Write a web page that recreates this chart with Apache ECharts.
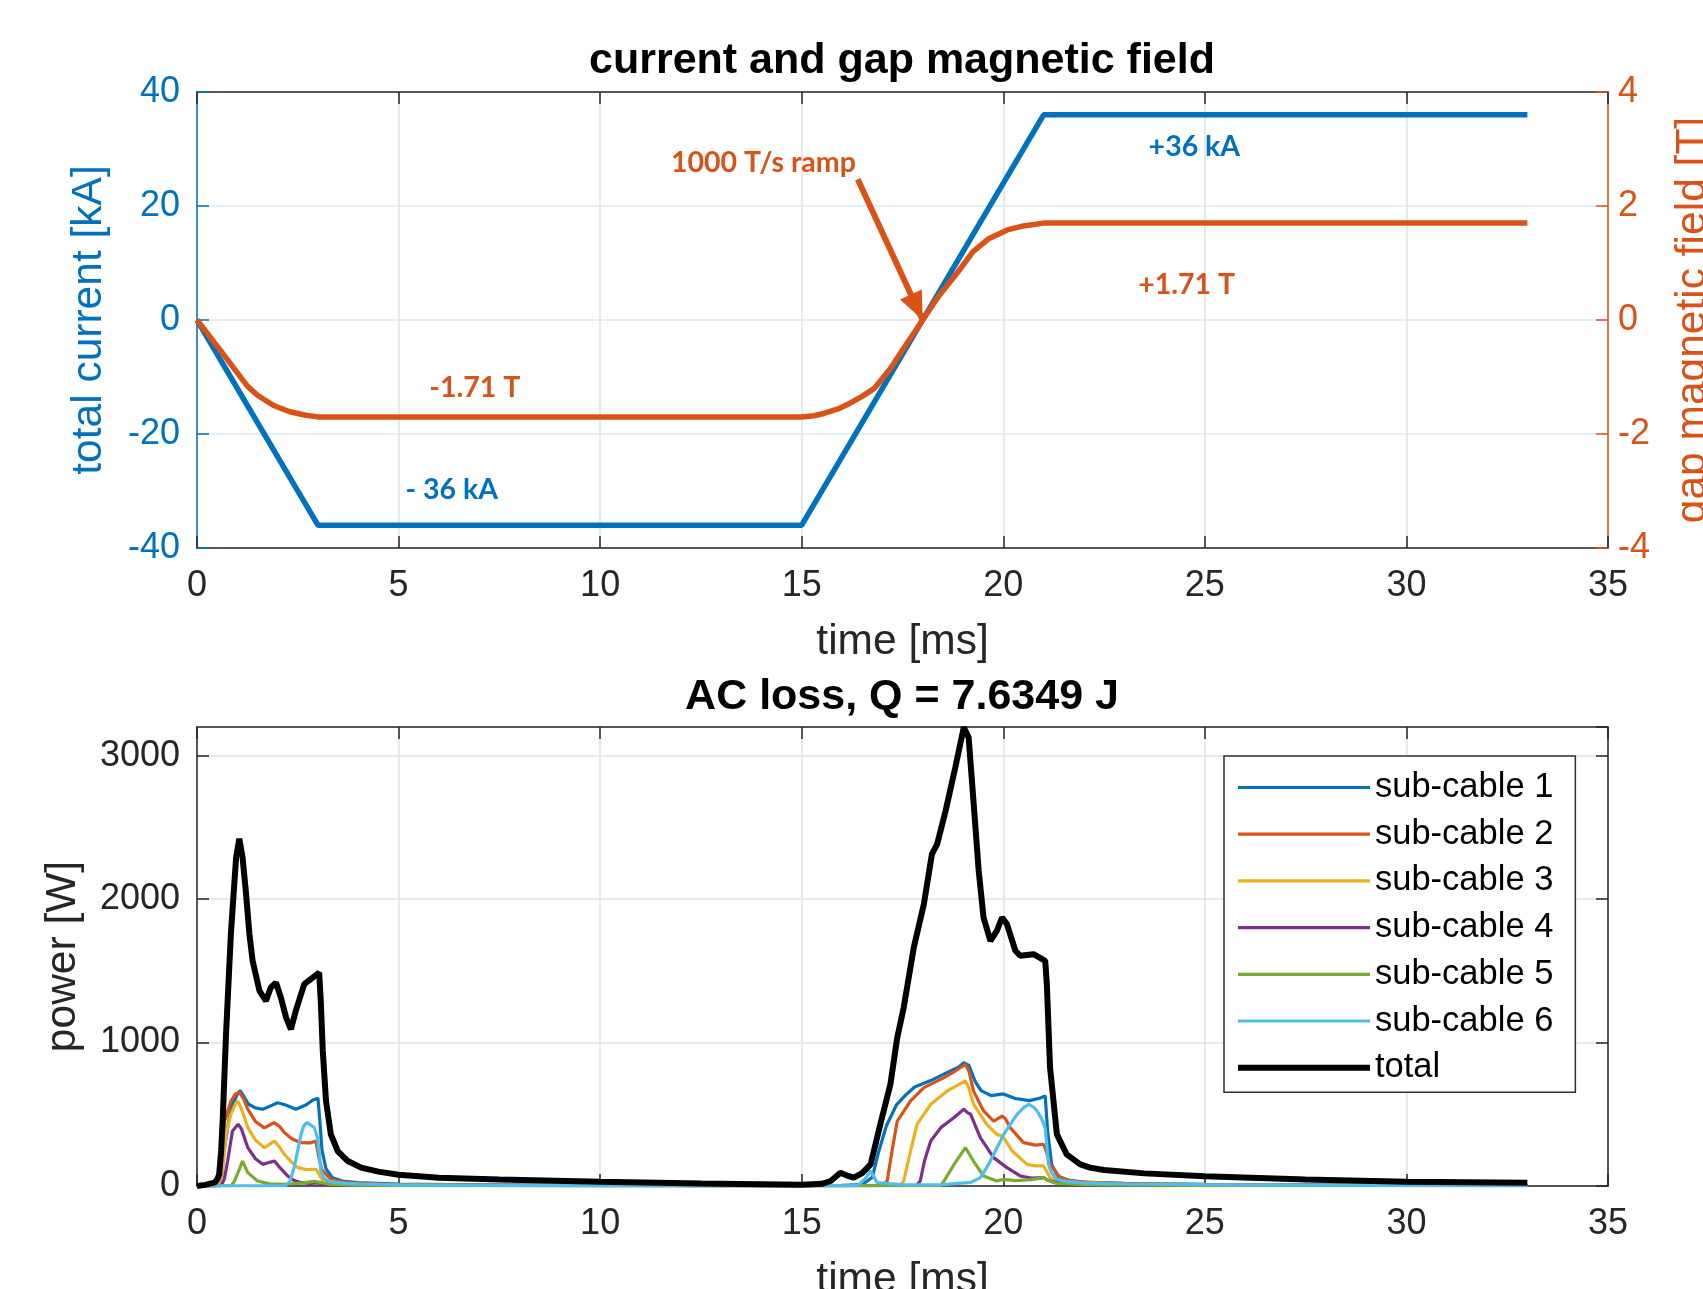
<!DOCTYPE html>
<html>
<head>
<meta charset="utf-8">
<title>current and gap magnetic field / AC loss</title>
<script src="https://cdn.jsdelivr.net/npm/echarts@6.0.0/dist/echarts.min.js"></script>
<style>
    html, body { margin: 0; padding: 0; background: #ffffff; }
    #canvas { width: 1703px; height: 1289px; }
</style>
</head>
<body>
<div id="canvas"></div>
<script>
/**---------------------------------------------------------------------------------------------------------------------
 * Data (time in ms)
 *-------------------------------------------------------------------------------------------------------------------*/

// total current [kA]
const currentData = [[0, 0], [3, -36], [15, -36], [21, 36], [33, 36]];

// gap magnetic field [T]
const fieldData = [[0, 0], [0.6, -0.55], [1.1, -1.02], [1.25, -1.16], [1.5, -1.32], [1.9, -1.5], [2.3, -1.61],
    [2.7, -1.67], [3.0, -1.70], [15.0, -1.70], [15.3, -1.68], [15.55, -1.64], [15.9, -1.56], [16.2, -1.46],
    [16.5, -1.34], [16.8, -1.2], [17.2, -0.85], [17.6, -0.42], [18, 0], [18.4, 0.42], [18.85, 0.82], [19.25, 1.2],
    [19.65, 1.43], [20.1, 1.58], [20.5, 1.65], [21.0, 1.70], [33, 1.70]];

// AC loss power [W] per sub-cable
const subCable1 = [[0, 0], [0.45, 3], [0.55, 30], [0.62, 120], [0.7, 300], [0.8, 480], [0.9, 580], [1.0, 640],
    [1.07, 665], [1.17, 620], [1.28, 570], [1.45, 545], [1.63, 535], [1.8, 555], [2.0, 580], [2.2, 565], [2.45, 535],
    [2.7, 565], [2.88, 600], [3.0, 612], [3.04, 480], [3.1, 250], [3.2, 120], [3.35, 60], [3.6, 35], [4.0, 24],
    [5.0, 14], [7.0, 8], [10, 5], [14, 3], [16.0, 4], [16.5, 10], [16.75, 60], [16.9, 230], [17.1, 420], [17.35, 565],
    [17.6, 640], [17.8, 690], [18.2, 735], [18.6, 790], [18.9, 830], [19.02, 860], [19.15, 840], [19.3, 730],
    [19.45, 665], [19.7, 630], [20.0, 642], [20.3, 610], [20.65, 595], [20.9, 612], [21.04, 628], [21.1, 380],
    [21.2, 150], [21.35, 70], [21.6, 42], [22, 28], [23, 18], [25, 12], [30, 6], [33, 5]];

const subCable2 = [[0, 0], [0.5, 2], [0.58, 60], [0.68, 450], [0.84, 590], [0.95, 640], [1.05, 655], [1.15, 610],
    [1.26, 535], [1.45, 450], [1.67, 405], [1.8, 425], [1.92, 442], [2.05, 415], [2.17, 372], [2.35, 330],
    [2.58, 302], [2.8, 300], [2.95, 314], [3.02, 200], [3.1, 110], [3.32, 46], [3.6, 28], [4.0, 18], [5, 10], [7, 6],
    [10, 4], [15, 2], [17.0, 5], [17.12, 35], [17.24, 244], [17.37, 453], [17.7, 593], [18.03, 686], [18.53, 756],
    [18.8, 800], [19.06, 849], [19.15, 800], [19.26, 663], [19.51, 523], [19.76, 453], [19.97, 488], [20.05, 470],
    [20.17, 407], [20.5, 302], [20.8, 285], [21.0, 291], [21.08, 230], [21.16, 151], [21.41, 58], [21.7, 35],
    [22.2, 24], [23, 16], [25, 10], [30, 5], [33, 4]];

const subCable3 = [[0, 0], [0.55, 2], [0.62, 60], [0.72, 360], [0.84, 500], [0.95, 570], [1.01, 593], [1.1, 540],
    [1.26, 407], [1.45, 320], [1.67, 267], [1.8, 290], [1.92, 314], [2.05, 270], [2.17, 220], [2.35, 165], [2.5, 128],
    [2.7, 115], [2.95, 116], [3.03, 80], [3.1, 46], [3.3, 30], [3.6, 20], [4, 14], [5, 8], [7, 5], [10, 3], [15, 2],
    [17.45, 5], [17.53, 35], [17.7, 244], [17.86, 430], [18.2, 570], [18.61, 663], [19.06, 733], [19.15, 680],
    [19.26, 570], [19.59, 430], [19.84, 360], [19.97, 349], [20.05, 320], [20.22, 244], [20.59, 151], [20.8, 140],
    [21.0, 140], [21.08, 100], [21.16, 58], [21.4, 35], [22, 22], [23, 15], [25, 9], [30, 5], [33, 4]];

const subCable4 = [[0, 0], [0.6, 2], [0.68, 50], [0.76, 174], [0.88, 384], [1.02, 430], [1.1, 400], [1.26, 267],
    [1.45, 190], [1.63, 151], [1.8, 165], [1.92, 174], [2.05, 130], [2.25, 70], [2.4, 40], [2.58, 23], [2.8, 18],
    [3.0, 22], [3.1, 15], [3.5, 10], [5, 6], [10, 3], [15, 2], [17.85, 5], [17.94, 35], [18.05, 180], [18.2, 314],
    [18.45, 407], [18.78, 477], [19.02, 535], [19.12, 510], [19.19, 500], [19.43, 337], [19.76, 198], [20.09, 128],
    [20.42, 70], [20.7, 55], [21.0, 58], [21.1, 40], [21.3, 25], [22, 15], [25, 8], [30, 4], [33, 3]];

const subCable5 = [[0, 0], [0.85, 2], [0.93, 35], [1.05, 116], [1.13, 174], [1.2, 130], [1.26, 93], [1.5, 35],
    [1.8, 15], [2.2, 12], [2.6, 20], [2.9, 32], [3.05, 25], [3.3, 12], [4, 6], [6, 3], [10, 2], [15, 1], [18.45, 5],
    [18.53, 35], [18.78, 151], [19.06, 267], [19.26, 174], [19.51, 70], [19.84, 35], [20.0, 46], [20.3, 38],
    [20.7, 45], [21.0, 58], [21.1, 40], [21.3, 20], [22, 10], [25, 5], [33, 3]];

const subCable6 = [[0, 0], [2.2, 3], [2.3, 30], [2.41, 128], [2.5, 250], [2.58, 360], [2.65, 420], [2.73, 442],
    [2.82, 425], [2.91, 407], [2.99, 337], [3.03, 230], [3.07, 105], [3.15, 55], [3.24, 35], [3.5, 22], [4, 14],
    [5, 8], [7, 5], [10, 3], [15, 2], [16.4, 5], [16.6, 60], [16.71, 105], [16.8, 60], [16.87, 23], [17.5, 8],
    [18.5, 10], [19.2, 25], [19.43, 58], [19.55, 110], [19.68, 174], [19.85, 270], [20.01, 360], [20.2, 440],
    [20.34, 500], [20.5, 545], [20.63, 570], [20.75, 550], [20.84, 523], [20.95, 470], [21.04, 407], [21.08, 280],
    [21.12, 151], [21.2, 90], [21.33, 46], [21.6, 30], [22, 20], [23, 14], [25, 9], [30, 5], [33, 4]];

const totalLoss = [[0, 0], [0.2, 8], [0.43, 23], [0.5, 45], [0.55, 80], [0.6, 250], [0.64, 477], [0.72, 1058],
    [0.84, 1756], [0.97, 2290], [1.05, 2420], [1.09, 2430], [1.13, 2290], [1.21, 2058], [1.3, 1756], [1.38, 1570],
    [1.55, 1360], [1.71, 1290], [1.83, 1384], [1.96, 1418], [2.08, 1314], [2.21, 1174], [2.33, 1093], [2.45, 1221],
    [2.66, 1407], [2.87, 1453], [3.03, 1488], [3.07, 1290], [3.12, 942], [3.2, 593], [3.32, 360], [3.49, 244],
    [3.74, 174], [4.07, 128], [4.5, 100], [5, 78], [6, 58], [7.5, 45], [10, 30], [12.5, 18], [15, 8], [15.5, 15],
    [15.72, 35], [15.96, 93], [16.15, 70], [16.29, 58], [16.5, 90], [16.71, 151], [16.95, 430], [17.2, 709],
    [17.37, 1035], [17.53, 1244], [17.78, 1663], [18.03, 1965], [18.23, 2314], [18.36, 2384], [18.57, 2616],
    [18.81, 2919], [19.02, 3198], [19.14, 3128], [19.26, 2686], [19.39, 2198], [19.51, 1872], [19.68, 1709],
    [19.84, 1779], [19.97, 1872], [20.09, 1826], [20.3, 1640], [20.42, 1605], [20.75, 1616], [21.04, 1570],
    [21.08, 1407], [21.16, 826], [21.33, 360], [21.57, 221], [21.91, 151], [22.15, 128], [22.5, 112], [23.5, 88],
    [25, 68], [27.5, 45], [30, 30], [33, 23]];

const lossNames = ['sub-cable 1', 'sub-cable 2', 'sub-cable 3', 'sub-cable 4', 'sub-cable 5', 'sub-cable 6', 'total'];
const lossSeries = [subCable1, subCable2, subCable3, subCable4, subCable5, subCable6, totalLoss];

// annotations: [text, time, value]
const currentNotes = [['+36 kA', 24.74, 30.4], ['- 36 kA', 6.32, -29.8]];
const fieldNotes = [['+1.71 T', 24.55, 0.62], ['-1.71 T', 6.89, -1.19], ['1000 T/s ramp', 14.05, 2.75]];
const rampArrow = [[16.39, 2.47], [18.0, 0.0]];

/**---------------------------------------------------------------------------------------------------------------------
 * Styles
 *-------------------------------------------------------------------------------------------------------------------*/
const FONT = '"Liberation Sans", Arial, sans-serif';
const NOTE_FONT = 'Lato, "Open Sans", sans-serif';
const DARK = '#262626';
const GRID_GRAY = '#e2e2e2';
const BLUE = '#0072BD';
const ORANGE = '#D95319';
const lossColors = ['#0072BD', '#D95319', '#EDB120', '#7E2F8E', '#77AC30', '#4DBEEE', '#000000'];

// legend line icons, same aspect as the legend item box (132 x 10)
const thinIcon = 'path://M0,0M132,10M0,3.4L132,3.4L132,6.6L0,6.6Z';
const thickIcon = 'path://M0,0M132,10M0,2L132,2L132,8L0,8Z';

/**
 * Time axis of one subplot, drawn at the bottom (labels) or top (box edge only)
 */
function timeAxis(gridIndex, position) {
    let bottom = position === 'bottom';
    return {
        type: 'value', gridIndex: gridIndex, position: position,
        min: 0, max: 35, interval: 5,
        axisLine: {show: true, onZero: false, lineStyle: {color: DARK, width: 1.5}},
        axisTick: {show: true, inside: true, length: 12, lineStyle: {color: DARK, width: 1.5}},
        axisLabel: {show: bottom, fontSize: 36, color: DARK, margin: 20, fontFamily: FONT},
        splitLine: {show: bottom, lineStyle: {color: GRID_GRAY, width: 1.5}},
        name: bottom ? 'time [ms]' : '',
        nameLocation: 'middle', nameGap: 73, nameMoveOverlap: false,
        nameTextStyle: {fontSize: 42.5, color: DARK, fontFamily: FONT}
    };
}

/**
 * Value axis, left or right of a subplot
 */
function valueAxis(gridIndex, position, min, max, interval, color, name, nameGap, showLabels, splitColor) {
    return {
        type: 'value', gridIndex: gridIndex, position: position,
        min: min, max: max, interval: interval,
        axisLine: {show: true, onZero: false, lineStyle: {color: color, width: 1.5}},
        axisTick: {show: true, inside: true, length: 12, lineStyle: {color: color, width: 1.5}},
        axisLabel: {
            show: showLabels, fontSize: 36, color: color, fontFamily: FONT,
            margin: position === 'left' ? 17 : 10, showMaxLabel: max % interval === 0,
            formatter: v => String(v)
        },
        splitLine: {show: !!splitColor, lineStyle: {color: splitColor, width: 1.5}},
        name: name, nameLocation: 'middle', nameGap: nameGap, nameMoveOverlap: false,
        nameTextStyle: {fontSize: 42.5, color: color, fontFamily: FONT}
    };
}

function noteLabel(color, size) {
    return {
        show: true, position: 'inside', formatter: '{b}',
        color: color, fontSize: size, fontWeight: 'bold', fontFamily: NOTE_FONT
    };
}

function notePoints(notes) {
    return notes.map(n => ({name: n[0], coord: [n[1], n[2]]}));
}

/**---------------------------------------------------------------------------------------------------------------------
 * Chart
 *-------------------------------------------------------------------------------------------------------------------*/
let eChartInstance = echarts.init(document.getElementById('canvas'), null, {renderer: 'canvas'});

let series = [
    {
        name: 'current', type: 'line', xAxisIndex: 0, yAxisIndex: 0, data: currentData,
        symbol: 'none', lineStyle: {color: BLUE, width: 5.5}, itemStyle: {color: BLUE}, z: 3,
        markPoint: {
            symbol: 'circle', symbolSize: 1, itemStyle: {color: 'transparent'},
            label: noteLabel(BLUE, 28.5), data: notePoints(currentNotes)
        }
    },
    {
        name: 'field', type: 'line', xAxisIndex: 0, yAxisIndex: 1, data: fieldData,
        symbol: 'none', lineStyle: {color: ORANGE, width: 5.5}, itemStyle: {color: ORANGE}, z: 4,
        markPoint: {
            symbol: 'circle', symbolSize: 1, itemStyle: {color: 'transparent'},
            label: noteLabel(ORANGE, 28.5), data: notePoints(fieldNotes)
        },
        markLine: {
            silent: true, symbol: ['none', 'triangle'], symbolSize: 24,
            lineStyle: {color: ORANGE, width: 6, type: 'solid'}, itemStyle: {color: ORANGE},
            label: {show: false},
            data: [[
                {coord: rampArrow[0], symbol: 'none'},
                {coord: rampArrow[1], symbol: 'triangle', symbolSize: [24, 28], symbolOffset: [0, 14]}
            ]]
        }
    }
];

lossSeries.forEach(function (data, i) {
    let isTotal = lossNames[i] === 'total';
    series.push({
        name: lossNames[i], type: 'line', xAxisIndex: 2, yAxisIndex: 2, data: data,
        symbol: 'none', z: isTotal ? 5 : 3,
        lineStyle: {color: lossColors[i], width: isTotal ? 6 : 3.2},
        itemStyle: {color: lossColors[i]}
    });
});

let eChartsOption = {
    backgroundColor: '#ffffff',
    animation: false,
    title: [
        {
            text: 'current and gap magnetic field', left: 902, top: 40, textAlign: 'center', padding: 0,
            textStyle: {fontSize: 43, fontWeight: 'bold', color: '#000', fontFamily: FONT}
        },
        {
            text: 'AC loss, Q = 7.6349 J', left: 902, top: 676, textAlign: 'center', padding: 0,
            textStyle: {fontSize: 43, fontWeight: 'bold', color: '#000', fontFamily: FONT}
        }
    ],
    grid: [
        {left: 197, right: 95, top: 92, height: 456, outerBoundsMode: 'none', containLabel: false},
        {left: 197, right: 95, top: 727, height: 459, outerBoundsMode: 'none', containLabel: false}
    ],
    xAxis: [
        timeAxis(0, 'bottom'),
        timeAxis(0, 'top'),
        timeAxis(1, 'bottom'),
        timeAxis(1, 'top')
    ],
    yAxis: [
        valueAxis(0, 'left', -40, 40, 20, BLUE, 'total current [kA]', 86, true, '#dde9f4'),
        valueAxis(0, 'right', -4, 4, 2, ORANGE, 'gap magnetic field [T]', 64, true, null),
        valueAxis(1, 'left', 0, 3200, 1000, DARK, 'power [W]', 112, true, GRID_GRAY),
        valueAxis(1, 'right', 0, 3200, 1000, DARK, '', 10, false, null)
    ],
    legend: {
        orient: 'vertical', left: 1224, top: 756,
        padding: [14, 22, 7, 14], itemGap: 11.7,
        itemWidth: 132, itemHeight: 10,
        backgroundColor: '#ffffff', borderColor: '#2f2f2f', borderWidth: 1.5, borderRadius: 0,
        textStyle: {fontSize: 34.5, color: '#000', fontFamily: FONT},
        selectedMode: false,
        data: lossNames.map(n => ({name: n, icon: n === 'total' ? thickIcon : thinIcon}))
    },
    series: series
};

eChartInstance.setOption(eChartsOption);
</script>
</body>
</html>
